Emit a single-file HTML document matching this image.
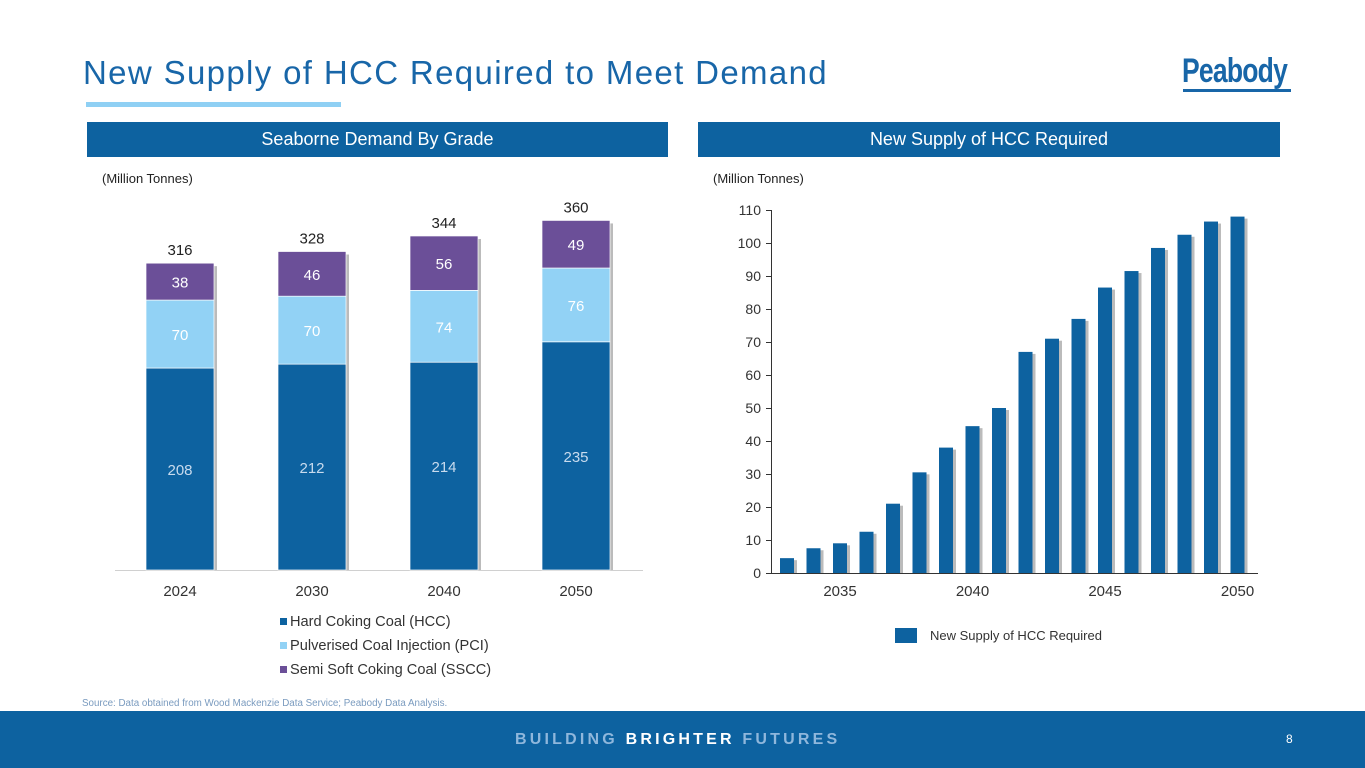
<!DOCTYPE html>
<html><head><meta charset="utf-8">
<style>
body{margin:0;width:1365px;height:768px;overflow:hidden;background:#fff;font-family:"Liberation Sans",sans-serif;position:relative}
.abs{position:absolute}
</style></head><body>
<div class="abs" style="left:83px;top:54px;font-size:33px;color:#1866a8;letter-spacing:1.35px">New Supply of HCC Required to Meet Demand</div>
<div class="abs" style="left:86px;top:102px;width:255px;height:5px;background:#8fd0f4"></div>
<div class="abs" style="left:1182px;top:52px;font-size:34px;font-weight:bold;color:#1866a8;transform:scaleX(0.78);transform-origin:left;letter-spacing:-1px">Peabody</div>
<div class="abs" style="left:1183px;top:89px;width:108px;height:3px;background:#1866a8"></div>
<div class="abs" style="left:87px;top:122px;width:581px;height:35px;background:#0d62a0;color:#fff;font-size:18px;line-height:35px;text-align:center">Seaborne Demand By Grade</div>
<div class="abs" style="left:698px;top:122px;width:582px;height:35px;background:#0d62a0;color:#fff;font-size:18px;line-height:35px;text-align:center">New Supply of HCC Required</div>
<div class="abs" style="left:102px;top:171px;font-size:13px;color:#222">(Million Tonnes)</div>
<div class="abs" style="left:713px;top:171px;font-size:13px;color:#222">(Million Tonnes)</div>
<svg class="abs" style="left:0;top:0" width="1365" height="768" id="svg"></svg>
<div class="abs" style="left:82px;top:698px;font-size:9.8px;color:#7a9bbf">Source: Data obtained from Wood Mackenzie Data Service; Peabody Data Analysis.</div>
<div class="abs" style="left:0;top:711px;width:1365px;height:57px;background:#0d62a0"></div>
<div class="abs" style="left:515px;top:731px;font-size:16px;font-weight:bold;color:#8fb7dc;letter-spacing:3.2px">BUILDING <span style="color:#fff">BRIGHTER</span> FUTURES</div>
<div class="abs" style="left:1286px;top:732px;font-size:12px;color:#fff">8</div>
<script>
const years=["2024","2030","2040","2050"];
const hcc=[208,212,214,235];
const pci=[70,70,74,76];
const sscc=[38,46,56,49];
const totals=[316,328,344,360];
const supplyYears=[2033,2034,2035,2036,2037,2038,2039,2040,2041,2042,2043,2044,2045,2046,2047,2048,2049,2050];
const supply=[4.5,7.5,9,12.5,21,30.5,38,44.5,50,67,71,77,86.5,91.5,98.5,102.5,106.5,108];
const yTicks=[0,10,20,30,40,50,60,70,80,90,100,110];
const xLabels=[2035,2040,2045,2050];

const svg=document.getElementById('svg');const NS='http://www.w3.org/2000/svg';
function mk(t,a,p){const e=document.createElementNS(NS,t);for(const k in a)e.setAttribute(k,a[k]);(p||svg).appendChild(e);return e;}
function txt(s,x,y,a){const e=mk('text',Object.assign({x:x,y:y,'font-family':'Liberation Sans, sans-serif','text-anchor':'middle'},a));e.textContent=s;return e;}
// left chart
const lBase=570,lScale=0.971,lx0=146,lStep=132,lW=68;
const ly=v=>lBase-v*lScale;
const ax=mk('line',{x1:115,x2:643,y1:570.5,y2:570.5,stroke:'#d0d0d0'});

const segs=[[hcc,'#0d62a0','#c8dbee','hcc'],[pci,'#92d2f5','#ffffff','pci'],[sscc,'#6b4f98','#ffffff','sscc']];
years.forEach((yr,i)=>{
  const x=lx0+i*lStep;let cum=0;
  const sh=mk('rect',{x:x+3,y:ly(totals[i])+3,width:lW,height:totals[i]*lScale-3,fill:'#bbb'});
  
  segs.forEach(([arr,col,tc,nm])=>{
    const v=arr[i];const y1=ly(cum+v),y0=ly(cum);
    const r=mk('rect',{x:x,y:y1,width:lW,height:y0-y1,fill:col,stroke:'#fff','stroke-width':0.7});
    
    const t=txt(v,x+lW/2,(y1+y0)/2+6,{'font-size':15,fill:tc});
    
    cum+=v;
  });
  const tt=txt(totals[i],x+lW/2,ly(totals[i])-8,{'font-size':15,fill:'#222'});
  
  const xl=txt(yr,x+lW/2,596,{'font-size':15,fill:'#333'});
  
});
const legend=[['#0d62a0','Hard Coking Coal (HCC)'],['#92d2f5','Pulverised Coal Injection (PCI)'],['#6b4f98','Semi Soft Coking Coal (SSCC)']];
legend.forEach((l,i)=>{
  const y=627+i*24;
  const r=mk('rect',{x:280,y:y-9,width:7,height:7,fill:l[0]});
  
  const t=txt(l[1],290,y-1,{'font-size':14.6,fill:'#333','text-anchor':'start'});
  
});
// right chart
const rBase=573,rScale=3.3,rAxX=771,rx0=787,rStep=26.5,rW=14;
const ry=v=>rBase-v*rScale;
const rx=yr=>rx0+(yr-supplyYears[0])*rStep;
const ya=mk('line',{x1:rAxX+0.5,x2:rAxX+0.5,y1:ry(110),y2:rBase,stroke:'#333'});

yTicks.forEach(v=>{
  const l=mk('line',{x1:rAxX-5,x2:rAxX,y1:ry(v)+0.5,y2:ry(v)+0.5,stroke:'#333'});
  
  const t=txt(v,rAxX-10,ry(v)+5,{'font-size':14,fill:'#333','text-anchor':'end'});
  
});
supplyYears.forEach((yr,i)=>{
  const x=rx(yr)-rW/2,v=supply[i];
  const sh=mk('rect',{x:x+3,y:ry(v)+2,width:rW,height:v*rScale-2,fill:'#bbb'});
  
  const r=mk('rect',{x:x,y:ry(v),width:rW,height:v*rScale,fill:'#0d62a0'});
  
});
const xa=mk('line',{x1:rAxX,x2:1258,y1:rBase+0.5,y2:rBase+0.5,stroke:'#333'});

xLabels.forEach(yr=>{
  const t=txt(yr,rx(yr),596,{'font-size':15,fill:'#333'});
  
});
const ls=mk('rect',{x:895,y:628,width:22,height:15,fill:'#0d62a0'});

const lt=txt('New Supply of HCC Required',930,640,{'font-size':13,fill:'#333','text-anchor':'start'});

</script>
</body></html>
